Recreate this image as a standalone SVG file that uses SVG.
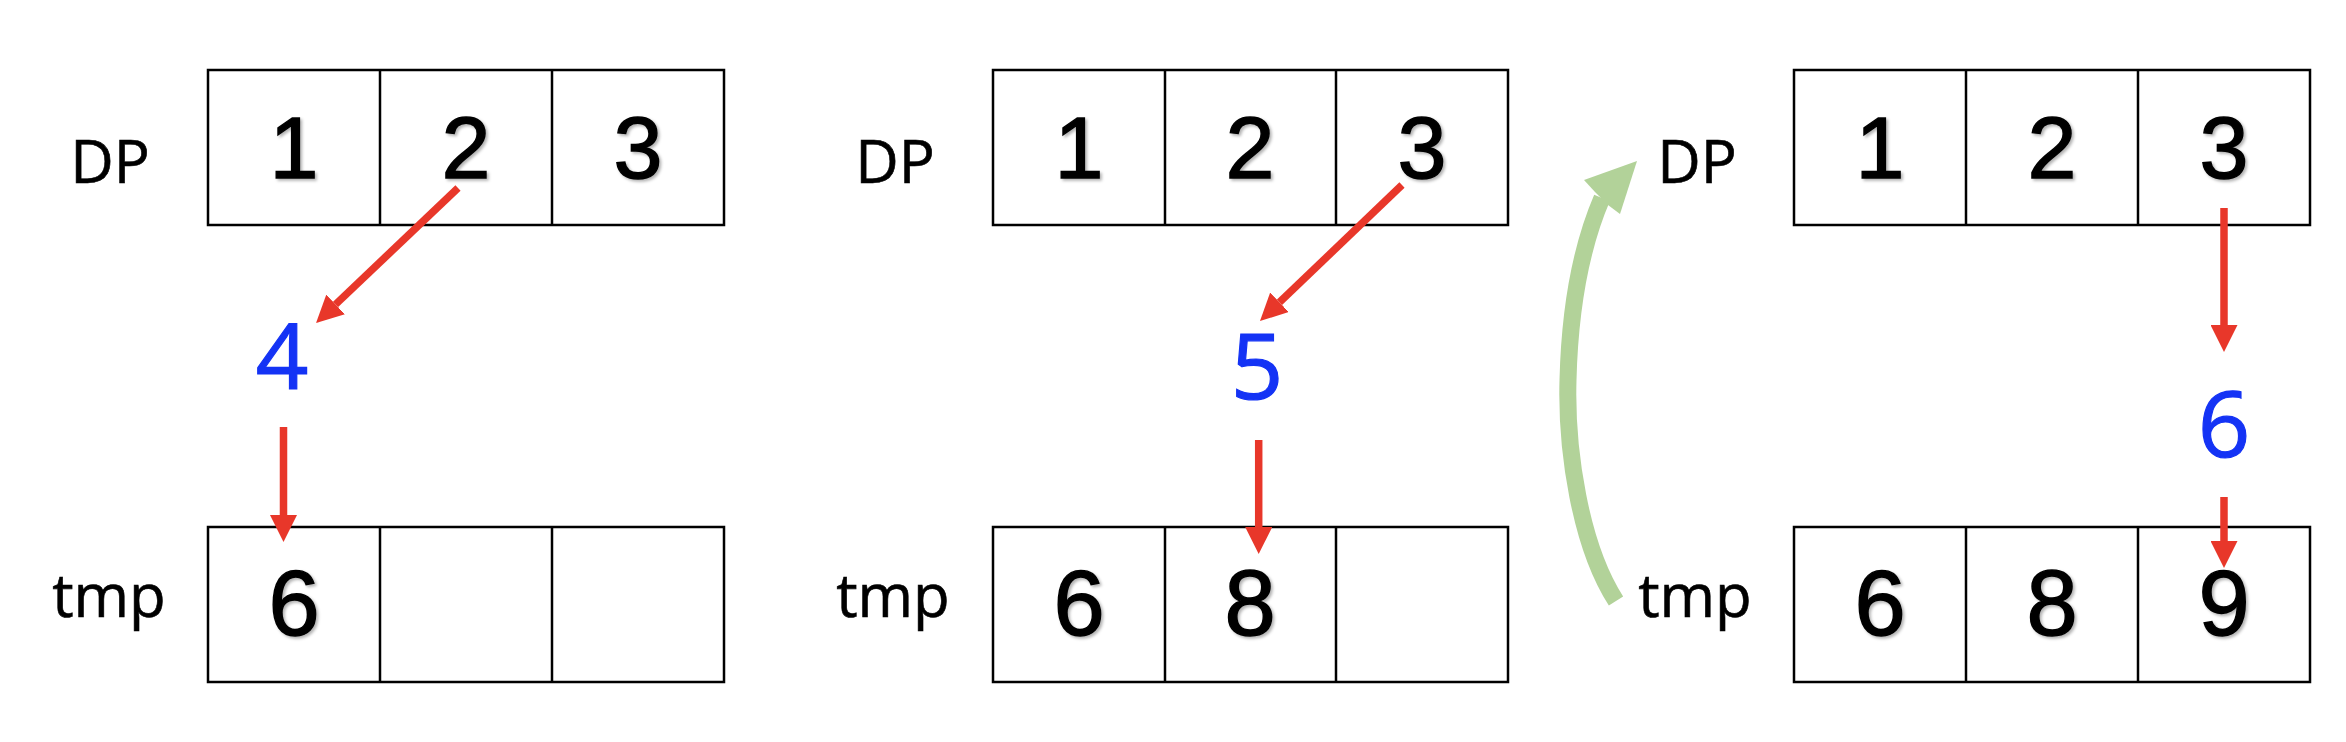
<svg xmlns="http://www.w3.org/2000/svg" width="2346" height="742" viewBox="0 0 2346 742">
<style>
.cell{fill:#ffffff;stroke:#000000;stroke-width:2.5}
.div{stroke:#000000;stroke-width:2.5}
.lbl{font-family:"Open Sans","Liberation Sans",sans-serif;font-size:60px;fill:#000000;stroke:#000000;stroke-width:0.6;text-anchor:middle}
.dp{font-family:"Liberation Sans",Arial,sans-serif;font-size:88px;fill:#000000;stroke:#000000;stroke-width:1.4;text-anchor:middle;filter:url(#sh)}
.tv{font-family:"Liberation Sans",Arial,sans-serif;font-size:92px;fill:#000000;stroke:#000000;stroke-width:1.4;text-anchor:middle;filter:url(#sh)}
.bv{font-family:"Open Sans","Liberation Sans",sans-serif;font-size:92px;fill:#1433F5;stroke:#1433F5;stroke-width:1.2;text-anchor:middle}
.ra{stroke:#E8372A;stroke-width:7.5;fill:none;marker-end:url(#ah)}
</style>
<defs>
<marker id="ah" markerUnits="userSpaceOnUse" markerWidth="27" markerHeight="27" viewBox="0 0 27 27" refX="0" refY="13.5" orient="auto">
<path d="M0,0 L27,13.5 L0,27 z" fill="#E8372A"/>
</marker>
<filter id="sh" x="-20%" y="-20%" width="150%" height="150%">
<feDropShadow dx="2" dy="2" stdDeviation="1.5" flood-color="#000000" flood-opacity="0.3"/>
</filter>
</defs>
<rect width="2346" height="742" fill="#ffffff"/>

<!-- Panel 1 -->
<g id="p1-dp-label"><text class="lbl" x="110" y="183">DP</text></g>
<g id="p1-tmp-label"><text class="lbl" x="109" y="617">tmp</text></g>
<g id="p1-dp">
<rect class="cell" x="208" y="70" width="516" height="155"/>
<line class="div" x1="380" y1="70" x2="380" y2="225"/>
<line class="div" x1="552" y1="70" x2="552" y2="225"/>
<text class="dp" x="294" y="178">1</text>
<text class="dp" x="466" y="178">2</text>
<text class="dp" x="638" y="178">3</text>
</g>
<g id="p1-tmp">
<rect class="cell" x="208" y="527" width="516" height="155"/>
<line class="div" x1="380" y1="527" x2="380" y2="682"/>
<line class="div" x1="552" y1="527" x2="552" y2="682"/>
<text class="tv" x="294" y="635">6</text>
</g>
<g id="p1-val"><text class="bv" x="282" y="389">4</text></g>

<!-- Panel 2 -->
<g id="p2-dp-label"><text class="lbl" x="895" y="183">DP</text></g>
<g id="p2-tmp-label"><text class="lbl" x="893" y="617">tmp</text></g>
<g id="p2-dp">
<rect class="cell" x="993" y="70" width="515" height="155"/>
<line class="div" x1="1165" y1="70" x2="1165" y2="225"/>
<line class="div" x1="1336" y1="70" x2="1336" y2="225"/>
<text class="dp" x="1079" y="178">1</text>
<text class="dp" x="1250" y="178">2</text>
<text class="dp" x="1422" y="178">3</text>
</g>
<g id="p2-tmp">
<rect class="cell" x="993" y="527" width="515" height="155"/>
<line class="div" x1="1165" y1="527" x2="1165" y2="682"/>
<line class="div" x1="1336" y1="527" x2="1336" y2="682"/>
<text class="tv" x="1079" y="635">6</text>
<text class="tv" x="1250" y="635">8</text>
</g>
<g id="p2-val"><text class="bv" x="1257" y="399">5</text></g>

<!-- Panel 3 -->
<g id="p3-dp-label"><text class="lbl" x="1697" y="183">DP</text></g>
<g id="p3-tmp-label"><text class="lbl" x="1695" y="617">tmp</text></g>
<g id="p3-dp">
<rect class="cell" x="1794" y="70" width="516" height="155"/>
<line class="div" x1="1966" y1="70" x2="1966" y2="225"/>
<line class="div" x1="2138" y1="70" x2="2138" y2="225"/>
<text class="dp" x="1880" y="178">1</text>
<text class="dp" x="2052" y="178">2</text>
<text class="dp" x="2224" y="178">3</text>
</g>
<g id="p3-tmp">
<rect class="cell" x="1794" y="527" width="516" height="155"/>
<line class="div" x1="1966" y1="527" x2="1966" y2="682"/>
<line class="div" x1="2138" y1="527" x2="2138" y2="682"/>
<text class="tv" x="1880" y="635">6</text>
<text class="tv" x="2052" y="635">8</text>
<text class="tv" x="2224" y="635">9</text>
</g>
<g id="p3-val"><text class="bv" x="2224" y="457">6</text></g>

<!-- Connectors -->
<g id="connectors">
<path class="ra" d="M458,188 L335.6,304.4"/>
<path class="ra" d="M283.5,427 L283.5,515"/>
<path class="ra" d="M1402,185 L1279.5,302.3"/>
<path class="ra" d="M1258.7,440 L1258.7,527"/>
<path class="ra" d="M2224,208 L2224,325"/>
<path class="ra" d="M2224,497 L2224,541"/>
<path d="M1616,601 C1580,545 1566,450 1568,380 C1570,300 1584,240 1602,198" fill="none" stroke="#B2D299" stroke-width="17"/>
<polygon points="1637,161 1620,214 1608,205 1595,192 1584,180" fill="#B2D299"/>
</g>
</svg>
